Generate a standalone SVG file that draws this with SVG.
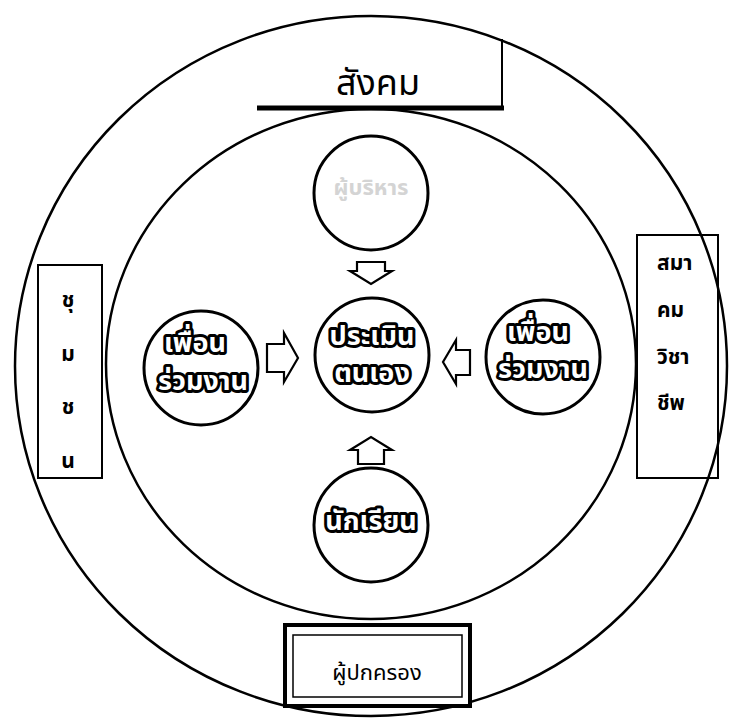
<svg xmlns="http://www.w3.org/2000/svg" width="739" height="719" viewBox="0 0 739 719">
<style>
.ring{fill:none;stroke:#000;stroke-width:2.5}
.node{fill:#fff;stroke:#000;stroke-width:3}
.box{fill:#fff;stroke:#000;stroke-width:2}
.arr{fill:#fff;stroke:#000;stroke-width:2.2;stroke-linejoin:miter}
.t{font-family:"Noto Sans Thai","Noto Sans","DejaVu Sans",sans-serif;text-anchor:middle}
.big{font-size:36px;font-weight:normal;fill:#000}
.lab{font-size:21px;font-weight:bold;fill:#000}
.out{font-size:27px;font-weight:bold;fill:#fff;stroke:#000;stroke-width:6;stroke-linejoin:round;paint-order:stroke}
.faint{font-size:22px;font-weight:bold;fill:#d4d4d4}
</style>
<rect width="739" height="719" fill="#fff"/>
<g id="rings">
<ellipse class="ring" cx="371" cy="364" rx="265" ry="255"/>
</g>
<g id="society">
<line x1="502" y1="39" x2="502" y2="108" stroke="#000" stroke-width="2"/>
<line x1="257" y1="108" x2="504" y2="108" stroke="#000" stroke-width="5"/>
<text class="t big" x="378" y="95">สังคม</text>
</g>
<g id="community">
<rect class="box" x="38" y="265" width="64" height="213"/>
<text class="t lab" x="68" y="307">ชุ</text>
<text class="t lab" x="68" y="361">ม</text>
<text class="t lab" x="68" y="414">ช</text>
<text class="t lab" x="68" y="468">น</text>
</g>
<g id="association">
<rect class="box" x="637" y="235" width="81" height="243"/>
<text class="t lab" x="657" y="270" style="text-anchor:start">สมา</text>
<text class="t lab" x="657" y="317" style="text-anchor:start">คม</text>
<text class="t lab" x="657" y="364" style="text-anchor:start">วิชา</text>
<text class="t lab" x="657" y="410" style="text-anchor:start">ชีพ</text>
</g>
<g id="outer-ring">
<ellipse class="ring" cx="371" cy="366" rx="356" ry="350"/>
</g>
<g id="parents">
<rect x="285" y="625" width="185" height="81" fill="#fff" stroke="#000" stroke-width="4"/>
<rect x="293" y="635" width="169" height="62" fill="none" stroke="#000" stroke-width="1.5"/>
<text class="t" x="377" y="680" style="font-size:22px;fill:#000">ผู้ปกครอง</text>
</g>
<g id="connectors">
<path class="arr" d="M357,262 H385 V271 H392 L371,284 L350,271 H357 Z"/>
<path class="arr" d="M358,464 H384 V450 H392 L371,437 L350,450 H358 Z"/>
<path class="arr" d="M267,344 H284 V333 L298,358 L284,382 V372 H267 Z"/>
<path class="arr" d="M470,350 H456 V340 L443,362 L456,384 V375 H470 Z"/>
</g>
<g id="admin">
<circle class="node" cx="371" cy="193" r="57"/>
<text class="t faint" x="371" y="195">ผู้บริหาร</text>
</g>
<g id="self">
<circle class="node" cx="372" cy="355" r="57"/>
<text class="t out" x="372" y="345">ประเมิน</text>
<text class="t out" x="372" y="382">ตนเอง</text>
</g>
<g id="colleague-left">
<circle class="node" cx="201" cy="368" r="57"/>
<text class="t out" x="195" y="352">เพื่อน</text>
<text class="t out" x="203" y="390">ร่วมงาน</text>
</g>
<g id="colleague-right">
<circle class="node" cx="543" cy="357" r="57"/>
<text class="t out" x="538" y="341">เพื่อน</text>
<text class="t out" x="543" y="378">ร่วมงาน</text>
</g>
<g id="students">
<circle class="node" cx="371" cy="525" r="57"/>
<text class="t out" x="371" y="530">นักเรียน</text>
</g>
</svg>
